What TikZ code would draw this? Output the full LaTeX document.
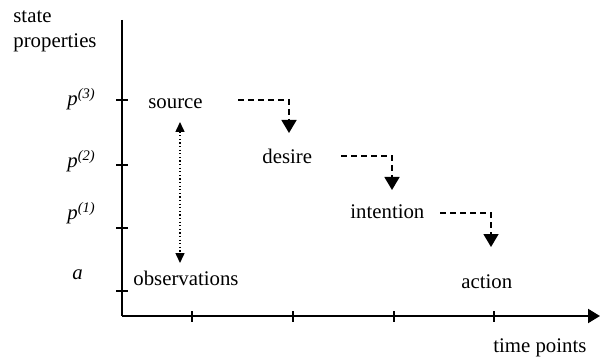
\documentclass[tikz,border=0pt]{standalone}
\usepackage{fontspec}
\setmainfont{Liberation Serif}
\usetikzlibrary{arrows.meta}
\begin{document}
\begin{tikzpicture}[x=0.5pt,y=-0.5pt,
  lbl/.style={anchor=base west,inner sep=0pt,font=\fontsize{10.4}{12}\selectfont},
  axis/.style={line width=1pt},
  tickmark/.style={line width=1pt},
  flow/.style={line width=0.75pt,dash pattern=on 3pt off 2pt,-{Triangle[length=6.5pt,width=7.5pt]}},
  obs/.style={line width=0.75pt,dash pattern=on 0.6pt off 1.2pt,{Triangle[length=5pt,width=4.5pt]}-{Triangle[length=5pt,width=4.5pt]}}]
\useasboundingbox (0,0) rectangle (600,358);
% axes
\coordinate (top) at (122,20);
\coordinate (origin) at (122,316);
\coordinate (right) at (600,316);
\draw[axis] (top) -- (origin);
\draw[axis,-{Triangle[length=6pt,width=7pt]}] (origin) -- (right);
% y ticks
\foreach \y in {100,165,228,291} \draw[tickmark] (116,\y) -- (128,\y);
% x ticks
\foreach \x in {192,293,394,494} \draw[tickmark] (\x,311) -- (\x,322);
% labels
\node[lbl] (state) at (13,23) {state};
\node[lbl] (props) at (13,48) {properties};
\node[lbl] (p3) at (67,106) {\textit{p}\textsuperscript{\textit{(3)}}};
\node[lbl] (p2) at (67,168) {\textit{p}\textsuperscript{\textit{(2)}}};
\node[lbl] (p1) at (67,220) {\textit{p}\textsuperscript{\textit{(1)}}};
\node[lbl] (a) at (72,279) {\textit{a}};
\node[lbl] (source) at (148,109) {source};
\node[lbl] (desire) at (262,163) {desire};
\node[lbl] (intention) at (350,219) {intention};
\node[lbl] (action) at (461,288) {action};
\node[lbl] (observations) at (133,285) {observations};
\node[lbl] (time) at (493,352) {time points};
% connectors
\coordinate (s1) at (238,100); \coordinate (s2) at (289,133);
\coordinate (d1) at (341,156); \coordinate (d2) at (392,190);
\coordinate (i1) at (440,213); \coordinate (i2) at (491,247);
\draw[flow] (s1) -| (s2);
\draw[flow] (d1) -| (d2);
\draw[flow] (i1) -| (i2);
\coordinate (o1) at (180,122); \coordinate (o2) at (180,263);
\draw[obs] (o1) -- (o2);
\end{tikzpicture}
\end{document}
